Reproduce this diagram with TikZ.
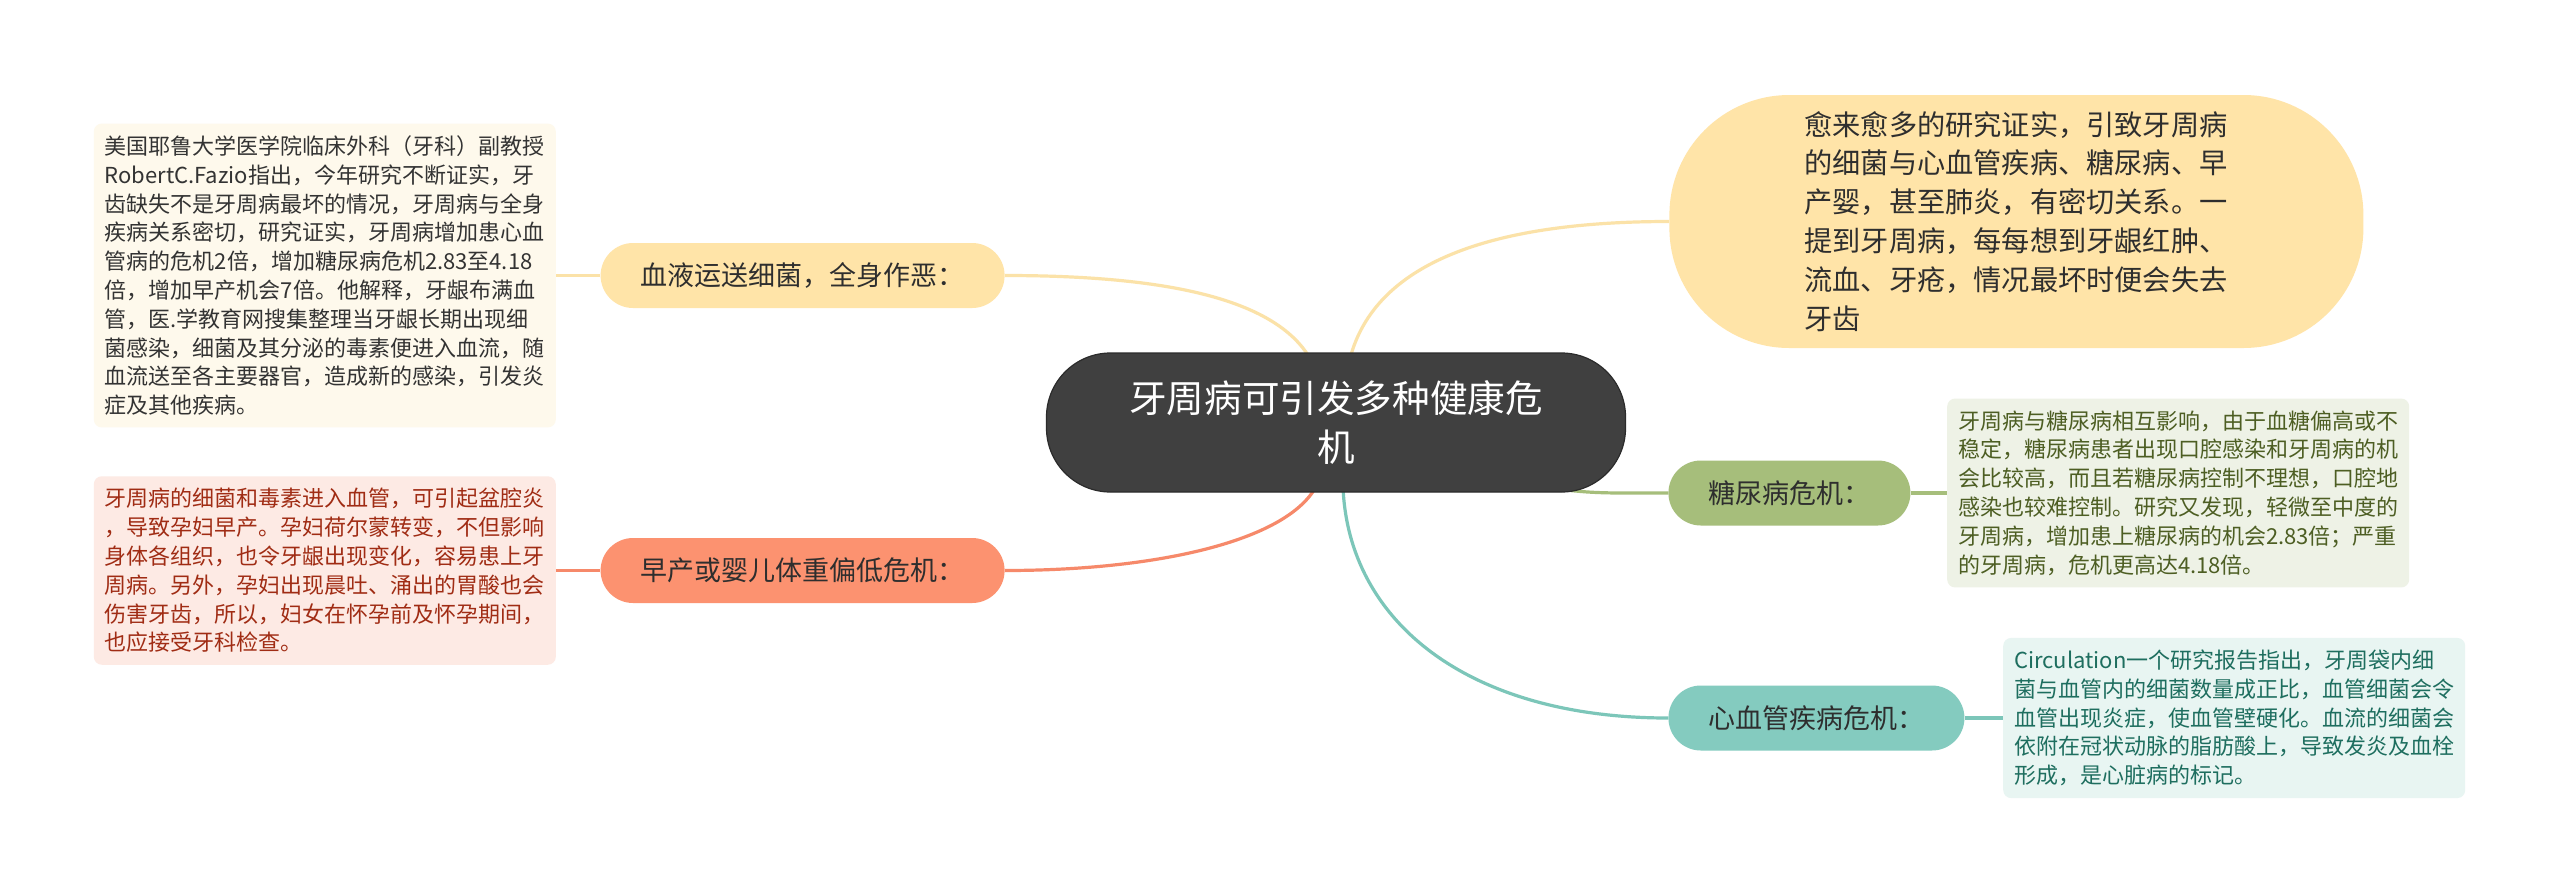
\documentclass[tikz,border=0pt]{standalone}
\usepackage{fontspec}
\newfontfamily\cjk{Noto Sans CJK SC}
\usepackage{tikz}
\usetikzlibrary{positioning,calc}
\definecolor{hubgray}{HTML}{404040}
\definecolor{hubline}{HTML}{2B2B2B}
\definecolor{sunny}{HTML}{FFE4A8}
\definecolor{sunline}{HTML}{FBE2A8}
\definecolor{cream}{HTML}{FEF9EC}
\definecolor{salmon}{HTML}{FC9270}
\definecolor{salmonline}{HTML}{F6896A}
\definecolor{rose}{HTML}{FDEAE4}
\definecolor{rosetext}{HTML}{A02C14}
\definecolor{olive}{HTML}{A6BE7B}
\definecolor{olivebg}{HTML}{EEF2E6}
\definecolor{olivetext}{HTML}{4D5E23}
\definecolor{teal}{HTML}{84CBBF}
\definecolor{tealline}{HTML}{7CC6B9}
\definecolor{tealbg}{HTML}{E8F5F2}
\definecolor{tealtext}{HTML}{1E6E5F}
\definecolor{subtext}{HTML}{2E2E2E}
\definecolor{notetext}{HTML}{333333}
\pgfdeclarelayer{paper}
\pgfdeclarelayer{links}
\pgfsetlayers{paper,links,main}

\begin{document}
\begin{tikzpicture}[x=0.5pt, y=-0.5pt, font=\cjk,
  hub/.style={fill=hubgray,draw=hubline,line width=0.6pt,text=white,rounded corners=32pt,
    minimum width=289.5pt,minimum height=69.5pt,text width=207pt,align=center,
    font=\cjk\fontsize{18.8}{24.5}\selectfont},
  bubble/.style={fill=sunny,rounded corners=60pt,minimum height=126.5pt,text width=212pt,
    inner xsep=67.5pt,align=left,text=subtext,font=\cjk\fontsize{14.1}{19.45}\selectfont},
  sub/.style={rounded corners=16.25pt,minimum height=32.5pt,inner xsep=20pt,text=subtext,
    font=\cjk\fontsize{13.5}{16}\selectfont},
  note/.style={rounded corners=4pt,text width=220pt,inner xsep=5.5pt,inner ysep=6pt,align=left,
    font=\cjk\fontsize{11}{14.4}\selectfont},
  link/.style={line width=1.6pt}]
  \begin{pgfonlayer}{paper}
    \fill[white] (0,0) rectangle (2560,895);
  \end{pgfonlayer}
  \useasboundingbox (0,0) rectangle (2560,895);

  \node[hub] (root) at (1336,422.5) {牙周病可引发多种健康危\\机};

  % top right bubble
  \node[bubble,anchor=west] (summary) at (1669,221.5) {愈来愈多的研究证实，引致牙周病\\的细菌与心血管疾病、糖尿病、早\\产婴，甚至肺炎，有密切关系。一\\提到牙周病，每每想到牙龈红肿、\\流血、牙疮，情况最坏时便会失去\\牙齿};

  % branches
  \node[sub,fill=sunny,anchor=east] (blood) at (1005,275.5) {血液运送细菌，全身作恶：};
  \node[sub,fill=salmon,anchor=east] (preterm) at (1005,570.5) {早产或婴儿体重偏低危机：};
  \node[sub,fill=olive,anchor=west] (diab) at (1668,493) {糖尿病危机：};
  \node[sub,fill=teal,anchor=west] (cardio) at (1668,718) {心血管疾病危机：};

  % notes
  \node[note,fill=cream,text=notetext,left=22pt of blood] (bloodnote) {美国耶鲁大学医学院临床外科（牙科）副教授\\RobertC.Fazio指出，今年研究不断证实，牙\\齿缺失不是牙周病最坏的情况，牙周病与全身\\疾病关系密切，研究证实，牙周病增加患心血\\管病的危机2倍，增加糖尿病危机2.83至4.18\\倍，增加早产机会7倍。他解释，牙龈布满血\\管，医.学教育网搜集整理当牙龈长期出现细\\菌感染，细菌及其分泌的毒素便进入血流，随\\血流送至各主要器官，造成新的感染，引发炎\\症及其他疾病。};
  \node[note,fill=rose,text=rosetext,left=22pt of preterm] (pretermnote) {牙周病的细菌和毒素进入血管，可引起盆腔炎\\，导致孕妇早产。孕妇荷尔蒙转变，不但影响\\身体各组织，也令牙龈出现变化，容易患上牙\\周病。另外，孕妇出现晨吐、涌出的胃酸也会\\伤害牙齿，所以，妇女在怀孕前及怀孕期间，\\也应接受牙科检查。};
  \node[note,fill=olivebg,text=olivetext,right=18pt of diab] (diabnote) {牙周病与糖尿病相互影响，由于血糖偏高或不\\稳定，糖尿病患者出现口腔感染和牙周病的机\\会比较高，而且若糖尿病控制不理想，口腔地\\感染也较难控制。研究又发现，轻微至中度的\\牙周病，增加患上糖尿病的机会2.83倍；严重\\的牙周病，危机更高达4.18倍。};
  \node[note,fill=tealbg,text=tealtext,right=19pt of cardio] (cardionote) {Circulation一个研究报告指出，牙周袋内细\\菌与血管内的细菌数量成正比，血管细菌会令\\血管出现炎症，使血管壁硬化。血流的细菌会\\依附在冠状动脉的脂肪酸上，导致发炎及血栓\\形成，是心脏病的标记。};

  \begin{pgfonlayer}{links}
    \draw[link,sunline] ($(root.north)+(-26,6)$) .. controls +(-35,-60) and +(160,0) .. (blood.east);
    \draw[link,sunline] ($(root.north)+(14,6)$) .. controls +(25,-95) and +(-180,0) .. (summary.west);
    \draw[link,salmonline] ($(root.south)+(-20,-6)$) .. controls +(-30,55) and +(150,0) .. (preterm.east);
    \draw[link,tealline] ($(root.south)+(7,-6)$) .. controls +(5,135) and +(-200,0) .. (cardio.west);
    \draw[link,olive] ($(root.south east)+(-55,-2)$) .. controls +(30,3) and +(-50,0) .. (diab.west);
    \draw[link,sunline] (blood.west) -- (bloodnote.east);
    \draw[link,salmonline] (preterm.west) -- (pretermnote.east);
    \draw[link,olive] (diab.east) -- (diabnote.west);
    \draw[link,tealline] (cardio.east) -- (cardionote.west);
  \end{pgfonlayer}
\end{tikzpicture}
\end{document}
